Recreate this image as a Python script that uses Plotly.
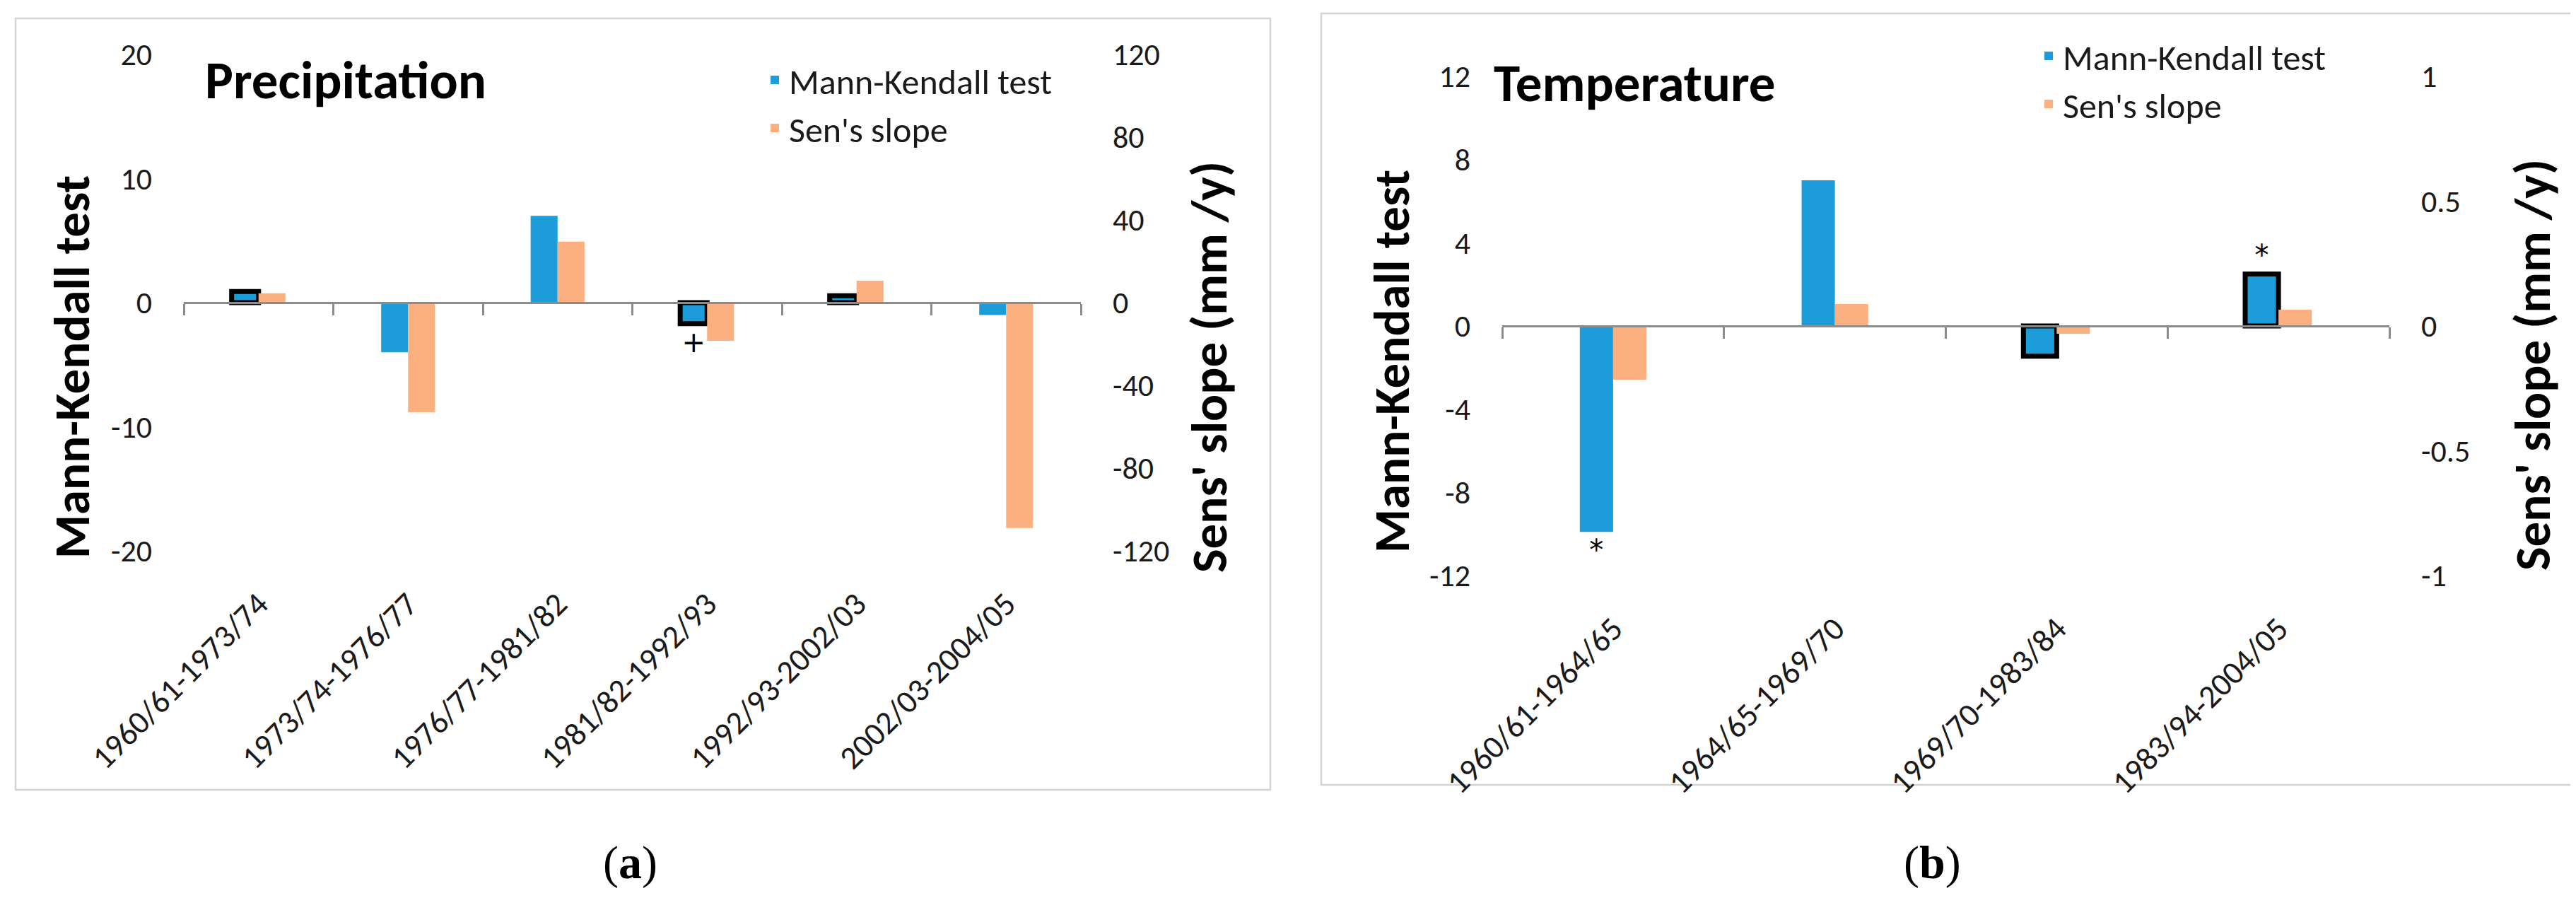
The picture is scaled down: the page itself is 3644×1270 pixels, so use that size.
import plotly.graph_objects as go

# ---------------- data ----------------
precip_periods = ["1960/61-1973/74", "1973/74-1976/77", "1976/77-1981/82",
                  "1981/82-1992/93", "1992/93-2002/03", "2002/03-2004/05"]
precip_mk = [0.9, -4.0, 7.0, -1.7, 0.55, -1.0]
precip_sen = [4.5, -53, 29.5, -18.5, 10.6, -109]
precip_outlined = [True, False, False, True, True, False]
precip_marks = ["", "", "", "+", "", ""]

temp_periods = ["1960/61-1964/65", "1964/65-1969/70", "1969/70-1983/84", "1983/94-2004/05"]
temp_mk = [-9.9, 7.0, -1.45, 2.5]
temp_sen = [-0.215, 0.088, -0.031, 0.065]
temp_outlined = [False, False, True, True]
temp_marks = ["*", "", "", "*"]

precip_mk_ticks = [-20, -10, 0, 10, 20]
precip_mk_ticktext = ["-20", "-10", "0", "10", "20"]
precip_sen_ticks = [-120, -80, -40, 0, 40, 80, 120]
precip_sen_ticktext = ["-120", "-80", "-40", "0", "40", "80", "120"]
temp_mk_ticks = [-12, -8, -4, 0, 4, 8, 12]
temp_mk_ticktext = ["-12", "-8", "-4", "0", "4", "8", "12"]
temp_sen_ticks = [-1, -0.5, 0, 0.5, 1]
temp_sen_ticktext = ["-1", "-0.5", "0", "0.5", "1"]

# ---------------- style ----------------
W, H = 3644, 1270
BLUE = "#1c9cd8"
ORANGE = "#fdb07f"
AXIS_GREY = "#8c8c8c"
FONT = "Carlito, Lato, 'Open Sans', sans-serif"
TXT = "#1a1a1a"

def px(x):
    return x / W

def py(y):
    return 1 - y / H

fig = go.Figure()

def add_panel(periods, mk, sen, outlined, marks, xa, xb, ya, yb, bw, legend):
    # Mann-Kendall bars
    fig.add_trace(go.Bar(
        x=periods, y=mk, name="Mann-Kendall test", xaxis=xa, yaxis=ya,
        marker=dict(color=BLUE, line=dict(width=0)),
        width=bw, offset=-bw,
        text=marks, textposition="outside", textangle=0, constraintext="none",
        textfont=dict(family="DejaVu Sans, sans-serif", size=40, color="black"),
        cliponaxis=False, legend=legend, legendgroup=legend + "mk",
        hoverinfo="x+y",
    ))
    # outline of highlighted Mann-Kendall bars
    fig.add_trace(go.Bar(
        x=periods, y=[v if f else None for v, f in zip(mk, outlined)],
        xaxis=xa, yaxis=ya, showlegend=False,
        marker=dict(color="rgba(0,0,0,0)", line=dict(width=7, color="black")),
        width=bw, offset=-bw, cliponaxis=False, hoverinfo="skip",
    ))
    # Sen's slope bars
    fig.add_trace(go.Bar(
        x=periods, y=sen, name="Sen's slope", xaxis=xb, yaxis=yb,
        marker=dict(color=ORANGE, line=dict(width=0)),
        width=bw, offset=0, cliponaxis=False,
        legend=legend, legendgroup=legend + "sen", hoverinfo="x+y",
    ))

add_panel(precip_periods, precip_mk, precip_sen, precip_outlined, precip_marks,
          "x", "x2", "y", "y2", 0.18, "legend")
add_panel(temp_periods, temp_mk, temp_sen, temp_outlined, temp_marks,
          "x3", "x4", "y3", "y4", 0.15, "legend2")

tickfont = dict(family=FONT, size=44, color=TXT)

# panel geometry (pixels)
ax_l, ax_r, ax_t, ax_b = 252, 1521, 69, 771
bx_l, bx_r, bx_t, bx_b = 2117, 3372, 100, 806

layout = dict(
    width=W, height=H, margin=dict(l=0, r=0, t=0, b=0),
    paper_bgcolor="white", plot_bgcolor="rgba(0,0,0,0)",
    barmode="overlay", showlegend=True,
    font=dict(family=FONT, color=TXT),
)

def xaxes(name_main, name_tick, base, left, right, top, bot, periods, anchor_y):
    layout[name_main] = dict(
        domain=[px(left), px(right)], anchor=anchor_y, type="category",
        categoryorder="array", categoryarray=periods,
        range=[-0.5, len(periods) - 0.5], showgrid=False, zeroline=False,
        showline=False, ticks="", tickangle=-45, tickfont=dict(family=FONT, size=46, color=TXT),
        ticklabelstandoff=38, automargin=False, fixedrange=True,
    )
    mid = (py(top) + py(bot)) / 2
    layout[name_tick] = dict(
        overlaying=base, anchor="free", position=mid, type="category",
        categoryorder="array", categoryarray=periods,
        range=[-0.5, len(periods) - 0.5], showgrid=False, zeroline=False,
        showline=True, linecolor=AXIS_GREY, linewidth=2.5,
        ticks="outside", tickson="boundaries", ticklen=16, tickwidth=2.5,
        tickcolor=AXIS_GREY, showticklabels=False, automargin=False, fixedrange=True,
    )

xaxes("xaxis", "xaxis2", "x", ax_l, ax_r, ax_t, ax_b, precip_periods, "y")
xaxes("xaxis3", "xaxis4", "x3", bx_l, bx_r, bx_t, bx_b, temp_periods, "y3")

def yaxes(name_l, name_r, base_y, anchor_x, top, bot, rl, tl, tlt, rr, tr, trt):
    layout[name_l] = dict(
        domain=[py(bot), py(top)], anchor=anchor_x, range=rl,
        tickmode="array", tickvals=tl, ticktext=tlt, ticks="",
        showgrid=False, zeroline=False, showline=False,
        tickfont=tickfont, ticklabelstandoff=44, automargin=False, fixedrange=True,
    )
    layout[name_r] = dict(
        overlaying=base_y, side="right", anchor=anchor_x, range=rr,
        tickmode="array", tickvals=tr, ticktext=trt, ticks="",
        showgrid=False, zeroline=False, showline=False,
        tickfont=tickfont, ticklabelstandoff=44, automargin=False, fixedrange=True,
    )

yaxes("yaxis", "yaxis2", "y", "x", ax_t, ax_b, [-20, 20], precip_mk_ticks, precip_mk_ticktext,
      [-120, 120], precip_sen_ticks, precip_sen_ticktext)
yaxes("yaxis3", "yaxis4", "y3", "x3", bx_t, bx_b, [-12, 12], temp_mk_ticks, temp_mk_ticktext,
      [-1, 1], temp_sen_ticks, temp_sen_ticktext)

legend_common = dict(
    xanchor="left", yanchor="top", bgcolor="rgba(0,0,0,0)",
    font=dict(family=FONT, size=50, color=TXT), traceorder="grouped",
    tracegroupgap=0, itemclick=False, itemdoubleclick=False,
)
layout["legend"] = dict(x=px(1068), y=py(66), **legend_common)
layout["legend2"] = dict(x=px(2870), y=py(32), **legend_common)

fig.update_layout(**layout)

# panel frames
frame = dict(type="rect", xref="paper", yref="paper", line=dict(color="#d3d3d3", width=2.5),
             fillcolor="rgba(0,0,0,0)", layer="below")
fig.add_shape(x0=px(14), x1=px(1789), y0=py(1109), y1=py(18), **frame)
fig.add_shape(x0=px(1861), x1=px(3638), y0=py(1102), y1=py(11), **frame)

title_font = dict(family=FONT, size=75, color="black")
axis_title_font = dict(family=FONT, size=71, color="black")
ann = []
# panel titles
ann.append(dict(text="<b>Precipitation</b>", x=px(280), y=py(106), xanchor="left", yanchor="middle",
                font=title_font))
ann.append(dict(text="<b>Temperature</b>", x=px(2103), y=py(110), xanchor="left", yanchor="middle",
                font=title_font))
# axis titles
ann.append(dict(text="<b>Mann-Kendall test</b>", x=px(94), y=py(511), textangle=-90,
                xanchor="center", yanchor="middle", font=axis_title_font))
ann.append(dict(text="<b>Sens' slope (mm /y)</b>", x=px(1703), y=py(511), textangle=-90,
                xanchor="center", yanchor="middle", font=axis_title_font))
ann.append(dict(text="<b>Mann-Kendall test</b>", x=px(1961), y=py(503), textangle=-90,
                xanchor="center", yanchor="middle", font=axis_title_font))
ann.append(dict(text="<b>Sens' slope (mm /y)</b>", x=px(3574), y=py(508), textangle=-90,
                xanchor="center", yanchor="middle", font=axis_title_font))
# captions
cap_font = dict(family="'Liberation Serif', 'DejaVu Serif', serif", size=66, color="black")
ann.append(dict(text="(<b>a</b>)", x=px(883), y=py(1212), xanchor="center", yanchor="middle",
                font=cap_font))
ann.append(dict(text="(<b>b</b>)", x=px(2725), y=py(1212), xanchor="center", yanchor="middle",
                font=cap_font))
for a in ann:
    a.update(xref="paper", yref="paper", showarrow=False)
fig.update_layout(annotations=ann)

fig.write_html("out.html")
